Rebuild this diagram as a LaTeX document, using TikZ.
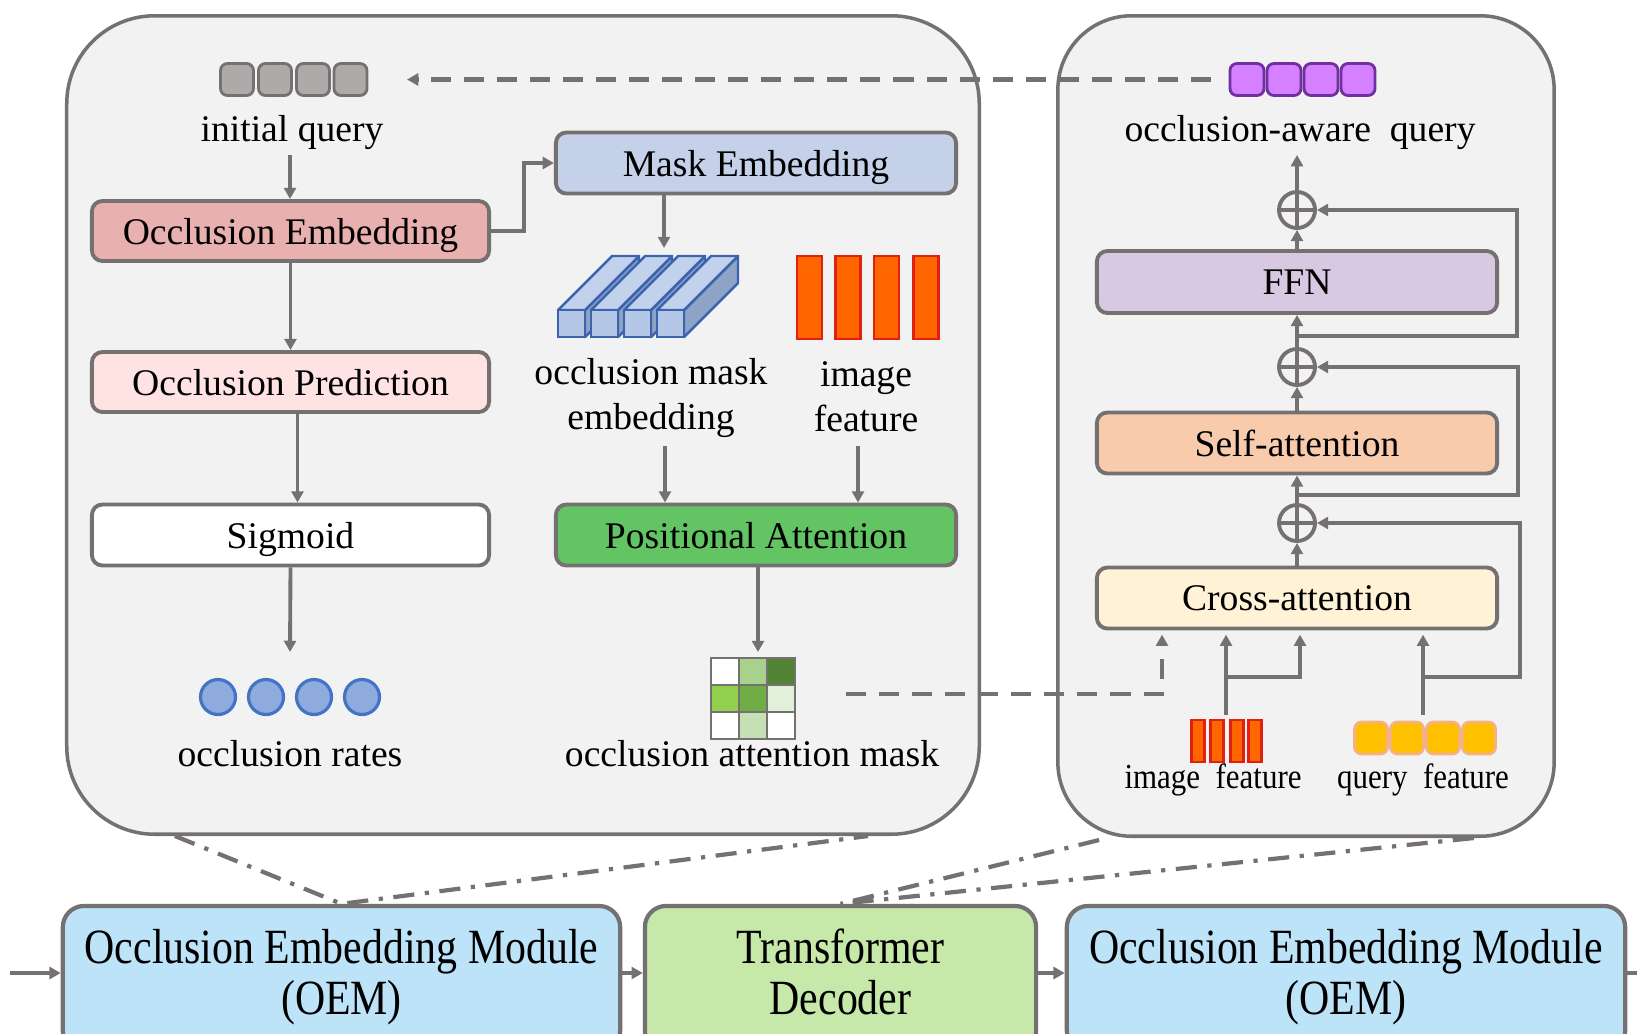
\documentclass[tikz,border=0pt]{standalone}
\usepackage{fontspec}
\setmainfont{Liberation Serif}
\usetikzlibrary{arrows.meta,calc}
\definecolor{lgray}{HTML}{767171}
\definecolor{panelfill}{HTML}{F2F2F2}
\definecolor{oecol}{HTML}{E8B0AE}
\definecolor{opcol}{HTML}{FFE2E2}
\definecolor{mecol}{HTML}{C5D0E9}
\definecolor{pacol}{HTML}{62C462}
\definecolor{ffncol}{HTML}{D9C8E2}
\definecolor{sacol}{HTML}{F8CBAD}
\definecolor{cacol}{HTML}{FFF2D6}
\definecolor{oemcol}{HTML}{BDE3F8}
\definecolor{tdcol}{HTML}{C6E8A9}
\definecolor{iqfill}{HTML}{AEAAAA}
\definecolor{pufill}{HTML}{D580FF}
\definecolor{puborder}{HTML}{7030A0}
\definecolor{qffill}{HTML}{FFC000}
\definecolor{qfborder}{HTML}{F4B183}
\definecolor{imfill}{HTML}{FF6600}
\definecolor{imborder}{HTML}{E02010}
\definecolor{blkfront}{HTML}{B4C7E7}
\definecolor{blktop}{HTML}{C3D2EC}
\definecolor{blkside}{HTML}{8FA3C6}
\definecolor{blkborder}{HTML}{3B64AD}
\definecolor{circfill}{HTML}{8FAADC}
\definecolor{circborder}{HTML}{4472C4}
\definecolor{gA}{HTML}{A9D18E}
\definecolor{gB}{HTML}{548235}
\definecolor{gC}{HTML}{92D050}
\definecolor{gD}{HTML}{70AD47}
\definecolor{gE}{HTML}{E2F0D9}
\definecolor{gF}{HTML}{C5E0B4}
\newcommand{\btxt}[1]{\scalebox{0.85}[1]{\fontsize{14pt}{14.4pt}\selectfont\begin{tabular}{@{}c@{}}#1\end{tabular}}}
\newcommand{\stxt}[1]{\scalebox{0.88}[1]{#1}}
\newcommand{\mblock}[1]{%
  \filldraw[draw=blkborder, fill=blkside, line width=0.7pt, line join=round] (#1+27,310) -- ++(54,-54) -- ++(0,27) -- ++(-54,54) -- cycle;
  \filldraw[draw=blkborder, fill=blktop, line width=0.7pt, line join=round] (#1,310) -- ++(54,-54) -- ++(27,0) -- ++(-54,54) -- cycle;
  \filldraw[draw=blkborder, fill=blkfront, line width=0.7pt] (#1,310) rectangle ++(27,27);}
\tikzset{
  txt/.style={font=\fontsize{10.7pt}{12.8pt}\selectfont, inner sep=0pt, align=center},
  smalltxt/.style={font=\fontsize{10pt}{12pt}\selectfont, inner sep=0pt},
  box/.style={draw=lgray, line width=1.1pt, rounded corners=3pt, inner sep=0pt, text depth=0pt, font=\fontsize{10.7pt}{12.8pt}\selectfont},
  bigbox/.style={draw=lgray, line width=1.2pt, rounded corners=6pt, inner sep=0pt},
  panelbox/.style={draw=lgray, line width=1pt, fill=panelfill, inner sep=0pt},
  arr/.style={draw=lgray, line width=1.1pt, -{Triangle[length=3.2pt,width=3.4pt]}},
  plainline/.style={draw=lgray, line width=1.1pt},
  dasharr/.style={draw=lgray, line width=1.2pt, dash pattern=on 5.7pt off 3.7pt, -{Triangle[length=3.2pt,width=3.4pt]}},
  dashdot/.style={draw=lgray, line width=1.2pt, dash pattern=on 6pt off 3pt on 1.2pt off 3pt},
  qsq/.style={line width=0.8pt, rounded corners=2pt, minimum width=0.33cm, minimum height=0.32cm, inner sep=0pt},
  bar/.style={draw=imborder, fill=imfill, line width=0.7pt, inner sep=0pt},
  rate/.style={circle, draw=circborder, fill=circfill, line width=0.9pt, minimum size=0.35cm, inner sep=0pt},
  oplus/.style={circle, draw=lgray, line width=1.1pt, minimum size=0.36cm, inner sep=0pt,
    path picture={\draw[lgray, line width=1.1pt] (path picture bounding box.north) -- (path picture bounding box.south) (path picture bounding box.west) -- (path picture bounding box.east);}},
  cell/.style={draw=lgray, line width=0.7pt},
}
\begin{document}
\begin{tikzpicture}[x=0.01cm,y=-0.01cm]
\useasboundingbox (0,0) rectangle (1637,1033);
\fill[white] (0,0) rectangle (1637,1033);

% panels
\node[panelbox, rounded corners=25pt, minimum width=9.12cm, minimum height=8.18cm] (lp) at (523,425) {};
\node[panelbox, rounded corners=21pt, minimum width=4.96cm, minimum height=8.20cm] (rp) at (1306,426) {};

% bottom row
\node[bigbox, fill=oemcol, minimum width=5.57cm, minimum height=1.46cm] (oem1) at (341.5,979) {\btxt{Occlusion Embedding Module\\(OEM)}};
\node[bigbox, fill=tdcol, minimum width=3.91cm, minimum height=1.46cm] (td) at (840.5,979) {\btxt{Transformer\\Decoder}};
\node[bigbox, fill=oemcol, minimum width=5.58cm, minimum height=1.46cm] (oem2) at (1346,979) {\btxt{Occlusion Embedding Module\\(OEM)}};

% left panel nodes
\node[qsq, draw=lgray, fill=iqfill] (iq1) at (237,79.5) {};
\node[qsq, draw=lgray, fill=iqfill] (iq2) at (275,79.5) {};
\node[qsq, draw=lgray, fill=iqfill] (iq3) at (313,79.5) {};
\node[qsq, draw=lgray, fill=iqfill] (iq4) at (350.5,79.5) {};
\node[txt] (iqt) at (292,133) {initial query};
\node[box, fill=oecol, minimum width=3.97cm, minimum height=0.60cm] (oe) at (290.5,231) {Occlusion Embedding};
\node[box, fill=opcol, minimum width=3.97cm, minimum height=0.60cm] (op) at (290.5,382) {Occlusion Prediction};
\node[box, fill=white, minimum width=3.97cm, minimum height=0.61cm] (sig) at (290.5,535) {Sigmoid};
\node[rate] (r1) at (218,697) {};
\node[rate] (r2) at (266,697) {};
\node[rate] (r3) at (314,697) {};
\node[rate] (r4) at (362,697) {};
\node[txt] (ort) at (290,754) {occlusion rates};

\node[box, fill=mecol, minimum width=4.0cm, minimum height=0.61cm] (me) at (756,163) {Mask Embedding};
\mblock{558}
\mblock{591}
\mblock{624}
\mblock{657}
\node[bar, minimum width=0.25cm, minimum height=0.83cm] (if1) at (809.5,297.5) {};
\node[bar, minimum width=0.25cm, minimum height=0.83cm] (if2) at (848,297.5) {};
\node[bar, minimum width=0.25cm, minimum height=0.83cm] (if3) at (886.5,297.5) {};
\node[bar, minimum width=0.25cm, minimum height=0.83cm] (if4) at (926,297.5) {};
\node[txt] (omet) at (651,398) {occlusion mask\\embedding};
\node[txt] (ift) at (866,397) {image\\feature};
\node[box, fill=pacol, minimum width=4.0cm, minimum height=0.61cm] (pa) at (756,535) {Positional Attention};

% attention mask grid
\filldraw[cell, fill=white] (711,658) rectangle ++(28,27);
\filldraw[cell, fill=gA] (739,658) rectangle ++(28,27);
\filldraw[cell, fill=gB] (767,658) rectangle ++(28,27);
\filldraw[cell, fill=gC] (711,685) rectangle ++(28,27);
\filldraw[cell, fill=gD] (739,685) rectangle ++(28,27);
\filldraw[cell, fill=gE] (767,685) rectangle ++(28,27);
\filldraw[cell, fill=white] (711,712) rectangle ++(28,27);
\filldraw[cell, fill=gF] (739,712) rectangle ++(28,27);
\filldraw[cell, fill=white] (767,712) rectangle ++(28,27);
\node[txt] (oamt) at (752,754) {occlusion attention mask};

% right panel nodes
\node[qsq, draw=puborder, fill=pufill, minimum width=0.34cm] (pu1) at (1247,79.5) {};
\node[qsq, draw=puborder, fill=pufill, minimum width=0.34cm] (pu2) at (1284,79.5) {};
\node[qsq, draw=puborder, fill=pufill, minimum width=0.34cm] (pu3) at (1321,79.5) {};
\node[qsq, draw=puborder, fill=pufill, minimum width=0.34cm] (pu4) at (1358,79.5) {};
\node[txt] (oaq) at (1300,133) {occlusion-aware\ \ query};
\node[oplus] (c1) at (1297,210) {};
\node[oplus] (c2) at (1297,367) {};
\node[oplus] (c3) at (1297,523) {};
\node[box, fill=ffncol, minimum width=4.0cm, minimum height=0.62cm] (ffn) at (1297,282) {FFN};
\node[box, fill=sacol, minimum width=4.0cm, minimum height=0.61cm] (sa) at (1297,443) {Self-attention};
\node[box, fill=cacol, minimum width=4.0cm, minimum height=0.61cm] (ca) at (1297,598) {Cross-attention};
\node[bar, minimum width=0.13cm, minimum height=0.42cm] (ir1) at (1198,741) {};
\node[bar, minimum width=0.13cm, minimum height=0.42cm] (ir2) at (1217,741) {};
\node[bar, minimum width=0.13cm, minimum height=0.42cm] (ir3) at (1237,741) {};
\node[bar, minimum width=0.13cm, minimum height=0.42cm] (ir4) at (1255,741) {};
\node[qsq, draw=qfborder, fill=qffill] (qf1) at (1371,738) {};
\node[qsq, draw=qfborder, fill=qffill] (qf2) at (1407,738) {};
\node[qsq, draw=qfborder, fill=qffill] (qf3) at (1443,738) {};
\node[qsq, draw=qfborder, fill=qffill] (qf4) at (1479,738) {};
\node[smalltxt] (ift2) at (1213,780) {\stxt{image\ \ feature}};
\node[smalltxt] (qft) at (1423,780) {\stxt{query\ \ feature}};

% coordinates
\coordinate (iqa) at (290,155);
\coordinate (ora) at (290,652);
\coordinate (mea) at (664,248);
\coordinate (omea) at (665,446);
\coordinate (ifa) at (858,446);
\coordinate (paa) at (758,652);
\coordinate (gmr) at (846,694);
\coordinate (cad) at (1162,694);
\coordinate (topd) at (1211,79.5);
\coordinate (topa) at (407,79.5);
\coordinate (outq) at (1297,155);
\coordinate (b1) at (1297,336);
\coordinate (b2) at (1297,495);
\coordinate (ifv) at (1226,715);
\coordinate (ifb) at (1226,677);
\coordinate (ifc) at (1300,677);
\coordinate (qfv) at (1423,715);
\coordinate (qfb) at (1423,677);
\coordinate (inL) at (10,973);
\coordinate (outR) at (1637,973);

% left panel connectors
\draw[arr] (iqa) -- (iqa |- oe.north);
\draw[arr] (oe.south) -- (op.north);
\draw[arr] ($(op.south)+(7,0)$) -- ($(sig.north)+(7,0)$);
\draw[arr] (sig.south) -- (ora);
\draw[arr] (oe.east) -- ++(33,0) |- (me.west);
\draw[arr] (mea |- me.south) -- (mea);
\draw[arr] (omea) -- (omea |- pa.north);
\draw[arr] (ifa) -- (ifa |- pa.north);
\draw[arr] (paa |- pa.south) -- (paa);

% dashed connectors
\draw[dasharr] (topd) -- (topa);
\draw[dasharr, shorten >=1.2pt] (gmr) -- (cad) -- (cad |- ca.south);

% right panel connectors
\draw[arr] (ca.north) -- (c3.south);
\draw[arr] (c3.north) -- (sa.south);
\draw[arr] (sa.north) -- (c2.south);
\draw[arr] (c2.north) -- (ffn.south);
\draw[arr] (ffn.north) -- (c1.south);
\draw[arr] (c1.north) -- (outq);
\draw[arr] (b1) -- ++(220,0) |- (c1.east);
\draw[arr] (b2) -- ++(221,0) |- (c2.east);
\draw[arr, shorten >=1.2pt] (ifv) -- (ifv |- ca.south);
\draw[arr, shorten >=1.2pt] (ifb) -- (ifc) -- (ifc |- ca.south);
\draw[arr, shorten >=1.2pt] (qfv) -- (qfv |- ca.south);
\draw[arr] (qfb) -- ++(97,0) |- (c3.east);

% bottom connectors
\draw[arr] (inL) -- (inL -| oem1.west);
\draw[arr] (inL -| oem1.east) -- (inL -| td.west);
\draw[arr] (inL -| td.east) -- (inL -| oem2.west);
\draw[plainline] (inL -| oem2.east) -- (outR);

% zoom lines
\draw[dashdot] ($(lp.south west)+(110,0)$) -- (oem1.north) -- ($(lp.south east)+(-113,0)$);
\draw[dashdot] ($(rp.south west)+(43,2)$) -- (td.north) -- ($(rp.south east)+(-82,0)$);
\end{tikzpicture}
\end{document}
